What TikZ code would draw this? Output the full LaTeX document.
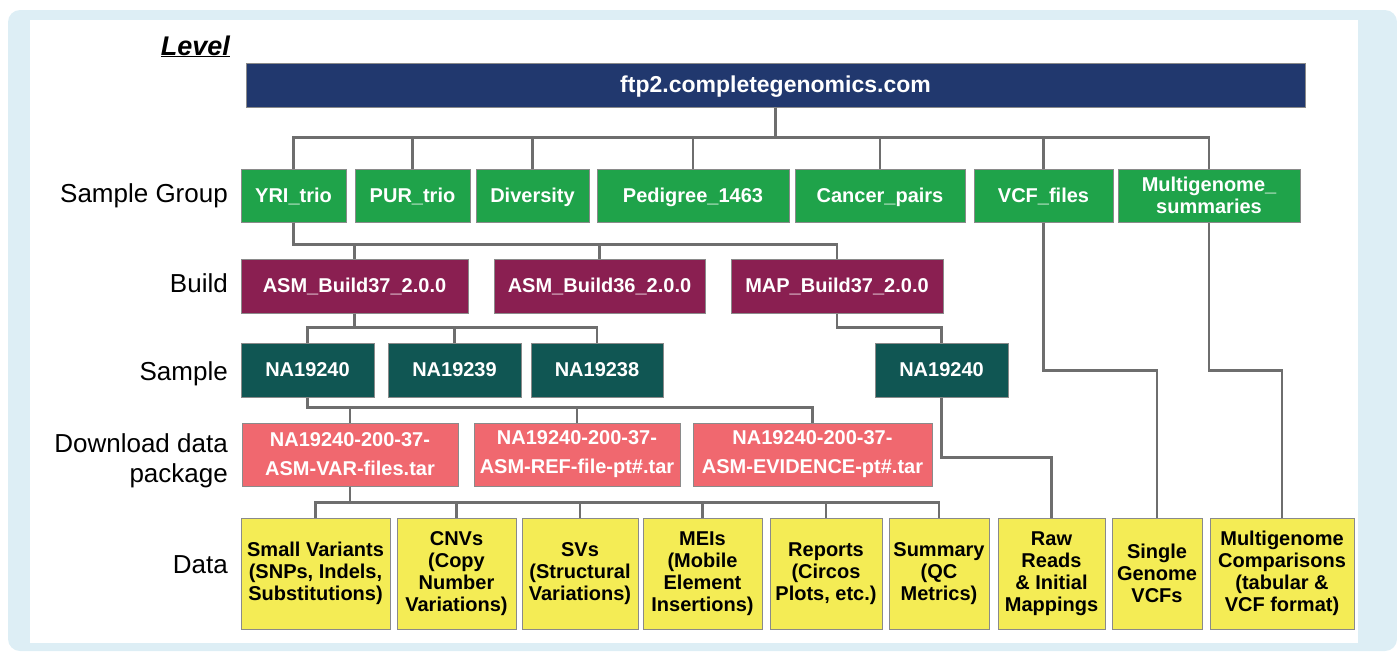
\documentclass[tikz,border=0pt]{standalone}
\usepackage{fontspec}
\setmainfont{Liberation Sans}
\definecolor{bgblue}{HTML}{DDEEF5}
\definecolor{navy}{HTML}{21386E}
\definecolor{grn}{HTML}{1FA34A}
\definecolor{maroon}{HTML}{8A1F51}
\definecolor{teal2}{HTML}{105653}
\definecolor{salmon}{HTML}{F0686F}
\definecolor{yel}{HTML}{F4EC55}
\definecolor{conngray}{HTML}{6E6E6E}
\definecolor{bordgray}{HTML}{8A8A8A}
\newcommand\bx[7]{\node[#6, minimum width={(#4-#2)*1pt}, minimum height={(#5-#3)*1pt}] (#1) at ({(#2+#4)/2},{(#3+#5)/2}) {#7};}
\tikzset{
  box/.style={draw=bordgray, line width=1pt, inner sep=0pt, align=center,
    font=\fontsize{20}{22}\selectfont\bfseries},
  one/.style={text height=14.5pt, text depth=1pt},
  rootbox/.style={box, fill=navy, text=white, font=\fontsize{23}{26}\selectfont\bfseries,
    text height=16.5pt, text depth=2.5pt},
  groupbox/.style={box, fill=grn, text=white},
  buildbox/.style={box, fill=maroon, text=white, one},
  samplebox/.style={box, fill=teal2, text=white, one},
  pkgbox/.style={box, fill=salmon, text=white, font=\fontsize{20}{29}\selectfont\bfseries},
  databox/.style={box, fill=yel, text=black},
  rowlabel/.style={inner sep=0pt, align=right, font=\fontsize{26}{30}\selectfont},
  conn/.style={draw=conngray, line width=2.2pt}
}
\begin{document}
\begin{tikzpicture}[x=1pt,y=-1pt]
\useasboundingbox (0,0) rectangle (1397,651);
\fill[bgblue, rounded corners=12pt] (8,10) rectangle (1397,651);
\fill[white] (30,20) rectangle (1358,643);

% level labels
\node[anchor=base east, inner sep=0pt, font=\fontsize{27}{30}\selectfont\bfseries\itshape] (lvl) at (230,55) {\underline{Level}};
\node[rowlabel, anchor=base east] (lgroup) at (228,202) {Sample Group};
\node[rowlabel, anchor=base east] (lbuild) at (228,292) {Build};
\node[rowlabel, anchor=base east] (lsample) at (228,380) {Sample};
\node[rowlabel, anchor=east] (lpkg) at (228,461) {Download data\\package};
\node[rowlabel, anchor=base east] (ldata) at (228,573) {Data};

% root
\bx{root}{246}{63}{1305}{107}{rootbox}{ftp2.completegenomics.com}

% sample groups
\bx{yri}{241}{169}{346}{222}{groupbox,one}{YRI\_trio}
\bx{pur}{355}{169}{470}{222}{groupbox,one}{PUR\_trio}
\bx{div}{476}{169}{589}{222}{groupbox,one}{Diversity}
\bx{ped}{597}{169}{789}{222}{groupbox,one}{Pedigree\_1463}
\bx{can}{795}{169}{965}{222}{groupbox,one}{Cancer\_pairs}
\bx{vcf}{974}{169}{1113}{222}{groupbox,one}{VCF\_files}
\bx{mgs}{1118}{169}{1300}{222}{groupbox}{Multigenome\_\\summaries}

% builds
\bx{asm37}{241}{259}{468}{313}{buildbox}{ASM\_Build37\_2.0.0}
\bx{asm36}{494}{259}{705}{313}{buildbox}{ASM\_Build36\_2.0.0}
\bx{map37}{731}{259}{943}{313}{buildbox}{MAP\_Build37\_2.0.0}

% samples
\bx{naa}{241}{343}{374}{397}{samplebox}{NA19240}
\bx{nab}{388}{343}{521}{397}{samplebox}{NA19239}
\bx{nac}{531}{343}{663}{397}{samplebox}{NA19238}
\bx{nad}{875}{343}{1008}{397}{samplebox}{NA19240}

% packages
\bx{var}{242}{423}{458}{486}{pkgbox}{NA19240-200-37-\\ASM-VAR-files.tar}
\bx{ref}{474}{423}{680}{486}{pkgbox}{NA19240-200-37-\\ASM-REF-file-pt\#.tar}
\bx{evi}{693}{423}{932}{486}{pkgbox}{NA19240-200-37-\\ASM-EVIDENCE-pt\#.tar}

% data
\bx{d1}{241}{518}{390}{629}{databox}{Small Variants\\(SNPs, Indels,\\Substitutions)}
\bx{d2}{397}{518}{516}{629}{databox}{CNVs\\(Copy\\Number\\Variations)}
\bx{d3}{522}{518}{638}{629}{databox}{SVs\\(Structural\\Variations)}
\bx{d4}{643}{518}{762}{629}{databox}{MEIs\\(Mobile\\Element\\Insertions)}
\bx{d5}{770}{518}{882}{629}{databox}{Reports\\(Circos\\Plots, etc.)}
\bx{d6}{889}{518}{989}{629}{databox}{Summary\\(QC\\Metrics)}
\bx{d7}{998}{518}{1105}{629}{databox}{Raw\\Reads\\\& Initial\\Mappings}
\bx{d8}{1112}{518}{1202}{629}{databox}{Single\\Genome\\VCFs}
\bx{d9}{1210}{518}{1354}{629}{databox}{Multigenome\\Comparisons\\(tabular \&\\VCF format)}

% connectors
\foreach \c in {yri,pur,div,ped,can,vcf,mgs}
  \draw[conn] (root.south) -- ++(0,30) -| (\c.north);
\foreach \c in {asm37,asm36,map37}
  \draw[conn] (yri.south) -- ++(0,22) -| (\c.north);
\foreach \c in {naa,nab,nac}
  \draw[conn] (asm37.south) -- ++(0,14) -| (\c.north);
\draw[conn] (map37.south) -- ++(0,14) -| (nad.north);
\foreach \c in {var,ref,evi}
  \draw[conn] (naa.south) -- ++(0,10) -| (\c.north);
\foreach \c in {d1,d2,d3,d4,d5,d6}
  \draw[conn] (var.south) -- ++(0,16) -| (\c.north);
\draw[conn] (nad.south) -- ++(0,60) -| (d7.north);
\draw[conn] (vcf.south) -- ++(0,148) -| (d8.north);
\draw[conn] (mgs.south) -- ++(0,148) -| (d9.north);
\end{tikzpicture}
\end{document}
